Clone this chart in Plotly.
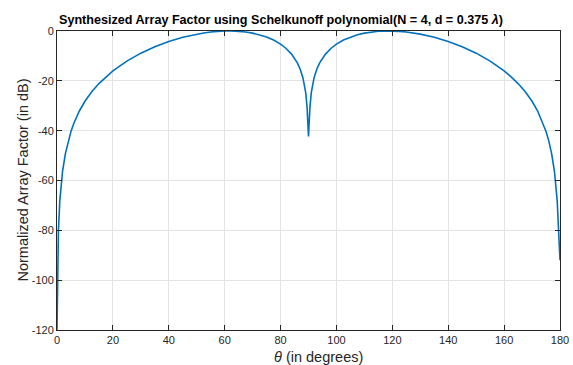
import plotly.graph_objects as go

theta_deg = [0, 0.12, 0.25, 0.5, 1, 1.5, 2, 3, 4, 5, 6, 8, 10, 12.5, 15, 17.5, 20, 25, 30, 35,
             40, 45, 50, 52.5, 55, 57.5, 60, 62.5, 65, 67.5, 70, 72.5, 75, 77.5, 80, 82, 84,
             86, 87, 88, 89, 89.5, 90, 90.5, 91, 92, 93, 94, 96, 98, 100, 102.5, 105, 107.5,
             110, 112.5, 115, 117.5, 120, 122.5, 125, 127.5, 130, 135, 140, 145, 150, 155,
             160, 162.5, 165, 167.5, 170, 172, 174, 175, 176, 177, 178, 178.5, 179, 179.5, 180]
af_db = [-120, -105.1, -92.3, -80.3, -68.2, -61.2, -56.2, -49.2, -44.2, -40.3, -37.1, -32.1,
         -28.2, -24.3, -21.1, -18.4, -16.0, -12.1, -8.9, -6.3, -4.2, -2.5, -1.25, -0.77,
         -0.40, -0.14, -0.01, 0, -0.12, -0.40, -0.86, -1.51, -2.42, -3.64, -5.27, -7.02,
         -9.37, -12.78, -15.24, -18.74, -24.74, -30.76, -42.3, -30.76, -24.74, -18.74,
         -15.24, -12.78, -9.37, -7.02, -5.27, -3.64, -2.42, -1.51, -0.86, -0.40, -0.12, 0,
         -0.01, -0.14, -0.40, -0.77, -1.25, -2.5, -4.2, -6.3, -8.9, -12.1, -16.0, -18.4,
         -21.1, -24.3, -28.2, -32.1, -37.1, -40.3, -44.2, -49.2, -56.2, -61.2, -68.2,
         -80.3, -92.0]

x_ticks = [0, 20, 40, 60, 80, 100, 120, 140, 160, 180]
y_ticks = [-120, -100, -80, -60, -40, -20, 0]

title_text = "<b>Synthesized Array Factor using Schelkunoff polynomial(N = 4, d = 0.375</b> <b><i>λ</i>)</b>"
y_title = "Normalized Array Factor (in dB)"
x_title = "<i>θ</i> (in degrees)"

FONT = "Liberation Sans, Arial, sans-serif"
AX = "#262626"

fig = go.Figure()
fig.add_trace(go.Scatter(x=theta_deg, y=af_db, mode="lines", hoverinfo="skip",
                         line=dict(color="#0072BD", width=1.6), showlegend=False))

axis_common = dict(showline=True, linecolor=AX, linewidth=1, mirror="ticks",
                   ticks="inside", ticklen=5, tickwidth=1, tickcolor=AX,
                   showgrid=True, gridcolor="#e3e3e3", gridwidth=1, zeroline=False,
                   automargin=False,
                   tickfont=dict(family=FONT, size=11, color=AX))

fig.update_xaxes(range=[0, 180], tickvals=x_ticks, ticktext=[str(v) for v in x_ticks], **axis_common)
fig.update_yaxes(range=[-120, 0], tickvals=y_ticks, ticktext=[str(v) for v in y_ticks], **axis_common)

fig.update_layout(
    width=573, height=365,
    margin=dict(l=57, r=13, t=31, b=35),
    paper_bgcolor="white", plot_bgcolor="white",
    font=dict(family=FONT, color=AX),
    annotations=[
        dict(text=title_text, xref="paper", yref="paper", x=0.446, y=1.0, yshift=11,
             xanchor="center", yanchor="middle", showarrow=False,
             font=dict(family=FONT, size=12.6, color="black")),
        dict(text=y_title, xref="paper", yref="paper", x=0, xshift=-35, y=0.5,
             xanchor="center", yanchor="middle", textangle=-90, showarrow=False,
             font=dict(family=FONT, size=14.5, color=AX)),
        dict(text=x_title, xref="paper", yref="paper", x=0.52, y=0, yshift=-27,
             xanchor="center", yanchor="middle", showarrow=False,
             font=dict(family=FONT, size=14.5, color=AX)),
    ],
)

fig.write_html("out.html", config={"displayModeBar": False},
               post_script="document.body.style.margin='0';document.body.style.overflow='hidden';")
